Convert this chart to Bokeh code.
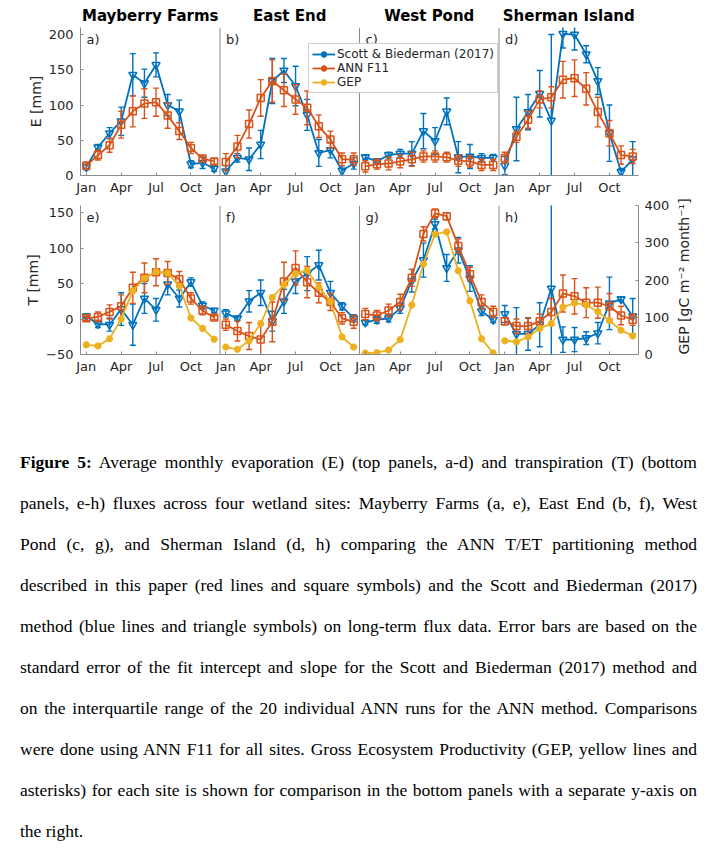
import math
import numpy as np
from bokeh.plotting import figure
from bokeh.models import (Range1d, LinearAxis, FixedTicker, Span, Label,
                          Legend, LegendItem, Div, Spacer)
from bokeh.layouts import column
from bokeh.embed import file_html
from bokeh.resources import INLINE

# ---------------- data ----------------
months = list(range(1, 13))
tick_months = [1, 4, 7, 10]
tick_labels = ["Jan", "Apr", "Jul", "Oct"]
sites = ["Mayberry Farms", "East End", "West Pond", "Sherman Island"]
top_letters = ["a)", "b)", "c)", "d)"]
bot_letters = ["e)", "f)", "g)", "h)"]
legend_labels = ["Scott & Biederman (2017)", "ANN F11", "GEP"]
e_ticks = [0, 50, 100, 150, 200]
t_ticks = [-50, 0, 50, 100, 150]
gep_ticks = [0, 100, 200, 300, 400]
gep_label = "GEP [gC m\u207b\u00b2 month\u207b\u00b9]"

# Evaporation E [mm] (top row)
mf_E_sb      = [12, 40, 60, 77, 143, 131, 157, 100, 91, 16, 18, 10]
mf_E_sb_err  = [4, 4, 8, 20, 30, 20, 17, 15, 16, 5, 8, 4]
mf_E_ann     = [14, 29, 43, 72, 91, 102, 104, 85, 63, 39, 24, 20]
mf_E_ann_err = [5, 7, 10, 19, 22, 21, 20, 18, 12, 8, 4, 4]

ee_E_sb      = [6, 25, 23, 44, 134, 149, 127, 86, 32, 36, 7, 17]
ee_E_sb_err  = [8, 6, 16, 20, 32, 17, 28, 22, 19, 11, 7, 8]
ee_E_ann     = [19, 41, 73, 110, 134, 121, 108, 96, 70, 51, 23, 23]
ee_E_ann_err = [12, 16, 20, 26, 30, 23, 21, 24, 16, 12, 9, 9]

wp_E_sb      = [26, 20, 29, 31, 31, 63, 49, 91, 26, 27, 25, 25]
wp_E_sb_err  = [3, 4, 4, 6, 17, 25, 19, 19, 22, 17, 6, 5]
wp_E_ann     = [13, 16, 17, 20, 23, 27, 27, 26, 21, 20, 15, 15]
wp_E_ann_err = [8, 7, 9, 9, 10, 8, 8, 7, 8, 8, 8, 8]

si_E_sb      = [14, 66, 90, 116, 78, 201, 200, 172, 134, 60, 5, 23]
si_E_sb_err  = [13, 45, 25, 33, 122, 20, 22, 12, 19, 40, 5, 25]
si_E_ann     = [25, 55, 79, 108, 111, 136, 138, 123, 90, 60, 29, 27]
si_E_ann_err = [8, 8, 12, 12, 15, 26, 26, 23, 21, 18, 13, 10]

# Transpiration T [mm] and GEP [gC m-2 month-1] (bottom row)
mf_T_sb      = [4, -7, -8, 14, -8, 29, 13, 49, 29, 52, 19, 12]
mf_T_sb_err  = [3, 5, 9, 23, 29, 21, 16, 15, 12, 6, 5, 3]
mf_T_ann     = [1, 3, 10, 18, 44, 58, 66, 65, 56, 29, 12, 2]
mf_T_ann_err = [3, 7, 10, 16, 22, 21, 19, 16, 11, 8, 6, 3]
mf_gep       = [26, 23, 42, 95, 171, 205, 222, 219, 184, 98, 70, 41]

ee_T_sb      = [8, 1, 25, 37, -3, 25, 53, 64, 76, 37, 18, 1]
ee_T_sb_err  = [5, 3, 15, 18, 14, 17, 17, 24, 21, 16, 5, 5]
ee_T_ann     = [-8, -17, -24, -29, -4, 53, 72, 52, 37, 24, 1, -4]
ee_T_ann_err = [8, 14, 19, 22, 28, 27, 24, 22, 14, 12, 8, 9]
ee_gep       = [20, 14, 37, 83, 153, 187, 217, 226, 181, 142, 47, 20]

wp_T_sb      = [-5, -1, 1, 15, 54, 83, 134, 72, 97, 57, 11, -1]
wp_T_sb_err  = [3, 5, 5, 7, 16, 24, 7, 19, 18, 18, 6, 4]
wp_T_ann     = [7, 5, 12, 24, 58, 120, 149, 145, 103, 63, 24, 10]
wp_T_ann_err = [8, 7, 9, 11, 12, 10, 6, 5, 10, 10, 10, 8]
wp_gep       = [4, 5, 12, 40, 133, 243, 323, 329, 225, 144, 42, 4]

si_T_sb      = [7, -21, -21, -8, 43, -29, -29, -27, -20, 22, 28, 4]
si_T_sb_err  = [12, 37, 23, 31, 125, 18, 17, 9, 15, 37, 3, 25]
si_T_ann     = [-3, -10, -10, -3, 10, 36, 32, 23, 23, 18, 5, -1]
si_T_ann_err = [5, 10, 11, 10, 19, 26, 25, 21, 22, 18, 13, 8]
si_gep       = [37, 34, 47, 70, 83, 127, 138, 133, 115, 91, 65, 50]

top_sb = [mf_E_sb, ee_E_sb, wp_E_sb, si_E_sb]
top_sb_err = [mf_E_sb_err, ee_E_sb_err, wp_E_sb_err, si_E_sb_err]
top_ann = [mf_E_ann, ee_E_ann, wp_E_ann, si_E_ann]
top_ann_err = [mf_E_ann_err, ee_E_ann_err, wp_E_ann_err, si_E_ann_err]
bot_sb = [mf_T_sb, ee_T_sb, wp_T_sb, si_T_sb]
bot_sb_err = [mf_T_sb_err, ee_T_sb_err, wp_T_sb_err, si_T_sb_err]
bot_ann = [mf_T_ann, ee_T_ann, wp_T_ann, si_T_ann]
bot_ann_err = [mf_T_ann_err, ee_T_ann_err, wp_T_ann_err, si_T_ann_err]
bot_gep = [mf_gep, ee_gep, wp_gep, si_gep]

caption_lines = [
    "<b>Figure 5:</b> Average monthly evaporation (E) (top panels, a-d) and transpiration (T) (bottom",
    "panels, e-h) fluxes across four wetland sites: Mayberry Farms (a, e), East End (b, f), West",
    "Pond (c, g), and Sherman Island (d, h) comparing the ANN T/ET partitioning method",
    "described in this paper (red lines and square symbols) and the Scott and Biederman (2017)",
    "method (blue lines and triangle symbols) on long-term flux data. Error bars are based on the",
    "standard error of the fit intercept and slope for the Scott and Biederman (2017) method and",
    "on the interquartile range of the 20 individual ANN runs for the ANN method. Comparisons",
    "were done using ANN F11 for all sites. Gross Ecosystem Productivity (GEP, yellow lines and",
    "asterisks) for each site is shown for comparison in the bottom panels with a separate y-axis on",
    "the right.",
]

# ---------------- style ----------------
BLUE = "#0072BD"
ORANGE = "#D95319"
YELLOW = "#EDB120"
AX = "#8a8a8a"
TXT = "#262626"
FONT = "DejaVu Sans"
NP = len(sites)


def xs(i):
    return [m + 12 * i for m in months]


def style_axis(ax):
    ax.major_tick_in = 3
    ax.major_tick_out = 0
    ax.minor_tick_line_color = None
    ax.axis_line_color = AX
    ax.major_tick_line_color = AX
    ax.major_label_text_font = FONT
    ax.major_label_text_font_size = "13px"
    ax.major_label_text_color = TXT
    ax.axis_label_text_font = FONT
    ax.axis_label_text_font_size = "14px"
    ax.axis_label_text_font_style = "normal"
    ax.axis_label_text_color = TXT


def make_fig(y_lo, y_hi, frame_h, top_border, bottom_border):
    p = figure(frame_width=558, frame_height=frame_h,
               x_range=Range1d(0.5, 12 * NP + 0.5), y_range=Range1d(y_lo, y_hi),
               min_border_left=80, min_border_right=80,
               min_border_top=top_border, min_border_bottom=bottom_border,
               output_backend="svg", toolbar_location=None, title=None)
    p.xgrid.grid_line_color = None
    p.ygrid.grid_line_color = None
    p.outline_line_color = None
    p.background_fill_color = "white"
    p.border_fill_color = "white"
    xt = [m + 12 * i for i in range(NP) for m in tick_months]
    p.xaxis.ticker = FixedTicker(ticks=xt)
    p.xaxis.major_label_overrides = {m + 12 * i: lab for i in range(NP)
                                     for m, lab in zip(tick_months, tick_labels)}
    style_axis(p.xaxis[0])
    style_axis(p.yaxis[0])
    p.xaxis.major_label_standoff = 4
    p.yaxis.major_label_standoff = 7
    p.yaxis.axis_label_standoff = 2
    for k in range(1, NP):
        p.add_layout(Span(location=12 * k + 0.5, dimension="height",
                          line_color=AX, line_width=1))
    return p


def errorbars(p, x, y, err, color, yr="default"):
    lo = [a - b for a, b in zip(y, err)]
    hi = [a + b for a, b in zip(y, err)]
    p.segment(x0=x, y0=lo, x1=x, y1=hi, line_color=color, line_width=1.4, y_range_name=yr)
    p.scatter(x=x, y=lo, marker="dash", size=6, line_color=color, line_width=1.4, y_range_name=yr)
    p.scatter(x=x, y=hi, marker="dash", size=6, line_color=color, line_width=1.4, y_range_name=yr)


def series(p, x, y, color, marker, size, yr="default"):
    p.line(x=x, y=y, line_color=color, line_width=1.8, y_range_name=yr)
    p.scatter(x=x, y=y, marker=marker, size=size, line_color=color,
              fill_color=None if marker != "asterisk" else color,
              line_width=1.5 if marker != "asterisk" else 2.4, y_range_name=yr)


def panel_letters(p, letters, y_top):
    for i in range(NP):
        p.add_layout(Label(x=0.5 + 12 * i, y=y_top, text=letters[i], x_offset=6, y_offset=-4,
                           text_baseline="top", text_font=FONT, text_font_size="13px",
                           text_color=TXT))


def bare_label_axis(ax, size, bold=False, color=TXT, standoff=5):
    ax.axis_line_color = None
    ax.major_tick_line_color = None
    ax.minor_tick_line_color = None
    ax.major_tick_in = 0
    ax.major_tick_out = 0
    ax.major_label_standoff = standoff
    ax.major_label_text_font = FONT
    ax.major_label_text_font_size = size
    ax.major_label_text_font_style = "bold" if bold else "normal"
    ax.major_label_text_color = color


# ---------------- top row: E ----------------
top = make_fig(0, 210, 148, 27, 20)
top.yaxis.ticker = FixedTicker(ticks=e_ticks)
top.yaxis.axis_label = "E [mm]"
for i in range(NP):
    x = xs(i)
    errorbars(top, x, top_sb[i], top_sb_err[i], BLUE)
    series(top, x, top_sb[i], BLUE, "inverted_triangle", 8)
    errorbars(top, x, top_ann[i], top_ann_err[i], ORANGE)
    series(top, x, top_ann[i], ORANGE, "square", 7)
panel_letters(top, top_letters, 210)

# site titles as an unlined axis above the panels
title_pos = [6.5 + 12 * i for i in range(NP)]
tax = LinearAxis(ticker=FixedTicker(ticks=title_pos),
                 major_label_overrides={t: s for t, s in zip(title_pos, sites)})
bare_label_axis(tax, "15px", bold=True, color="black", standoff=3)
top.add_layout(tax, "above")

# legend-only glyphs (a single NaN point: nothing is drawn in the panels)
nan = np.array([np.nan])
leg_items = []
for lab, col in zip(legend_labels, [BLUE, ORANGE, YELLOW]):
    rends = [top.line(x=nan, y=nan, line_color=col, line_width=1.8)]
    if col != YELLOW:
        rends.append(top.scatter(x=nan, y=nan, marker="dash", angle=math.pi / 2, size=10,
                                 line_color=col, line_width=1.5))
    rends.append(top.scatter(x=nan, y=nan, marker="circle", size=4,
                             line_color=col, fill_color=col))
    leg_items.append(LegendItem(label=lab, renderers=rends))
legend = Legend(items=leg_items, location=(228, 82), label_text_font=FONT,
                label_text_font_size="12px", label_text_color=TXT,
                glyph_width=23, glyph_height=14, label_height=14, label_standoff=2,
                padding=3, spacing=0, margin=0, border_line_color="#a0a0a0",
                border_line_width=1, background_fill_color="white", background_fill_alpha=1)
top.add_layout(legend)

# ---------------- bottom row: T and GEP ----------------
bot = make_fig(-50, 160, 149, 8, 24)
bot.yaxis.ticker = FixedTicker(ticks=t_ticks)
bot.yaxis.axis_label = "T [mm]"
bot.extra_y_ranges = {"gep": Range1d(0, 400)}
gax = LinearAxis(y_range_name="gep", ticker=FixedTicker(ticks=gep_ticks))
style_axis(gax)
gax.major_label_standoff = 6
bot.add_layout(gax, "right")

# GEP axis title (rotated, reading bottom-to-top), anchored on the axis' zero tick
glab = LinearAxis(y_range_name="gep", ticker=FixedTicker(ticks=[gep_ticks[0]]),
                  major_label_overrides={gep_ticks[0]: gep_label},
                  major_label_orientation=math.pi / 2)
bare_label_axis(glab, "14px", standoff=11)
bot.add_layout(glab, "right")

for i in range(NP):
    x = xs(i)
    errorbars(bot, x, bot_sb[i], bot_sb_err[i], BLUE)
    series(bot, x, bot_sb[i], BLUE, "inverted_triangle", 8)
    errorbars(bot, x, bot_ann[i], bot_ann_err[i], ORANGE)
    series(bot, x, bot_ann[i], ORANGE, "square", 7)
    series(bot, x, bot_gep[i], YELLOW, "asterisk", 7, yr="gep")
panel_letters(bot, bot_letters, 160)

# ---------------- caption ----------------
parts = []
base = ("font-family:'Liberation Serif','Times New Roman',serif;font-size:17.5px;"
        "color:black;white-space:nowrap;")
for j, ln in enumerate(caption_lines):
    if j < len(caption_lines) - 1:
        st = base + "height:41px;line-height:41px;text-align:justify;text-align-last:justify;"
    else:
        st = base + "height:26px;line-height:26px;padding-top:7px;text-align:left;"
    parts.append(f'<div style="{st}">{ln}</div>')
html = ('<div style="margin-left:20px;width:677px;">' + "".join(parts) + "</div>")
caption = Div(text=html, width=718, margin=0)

layout = column(top, bot, Spacer(height=64, width=10), caption, spacing=0)

with open("out.html", "w") as f:
    f.write(file_html(layout, INLINE))
